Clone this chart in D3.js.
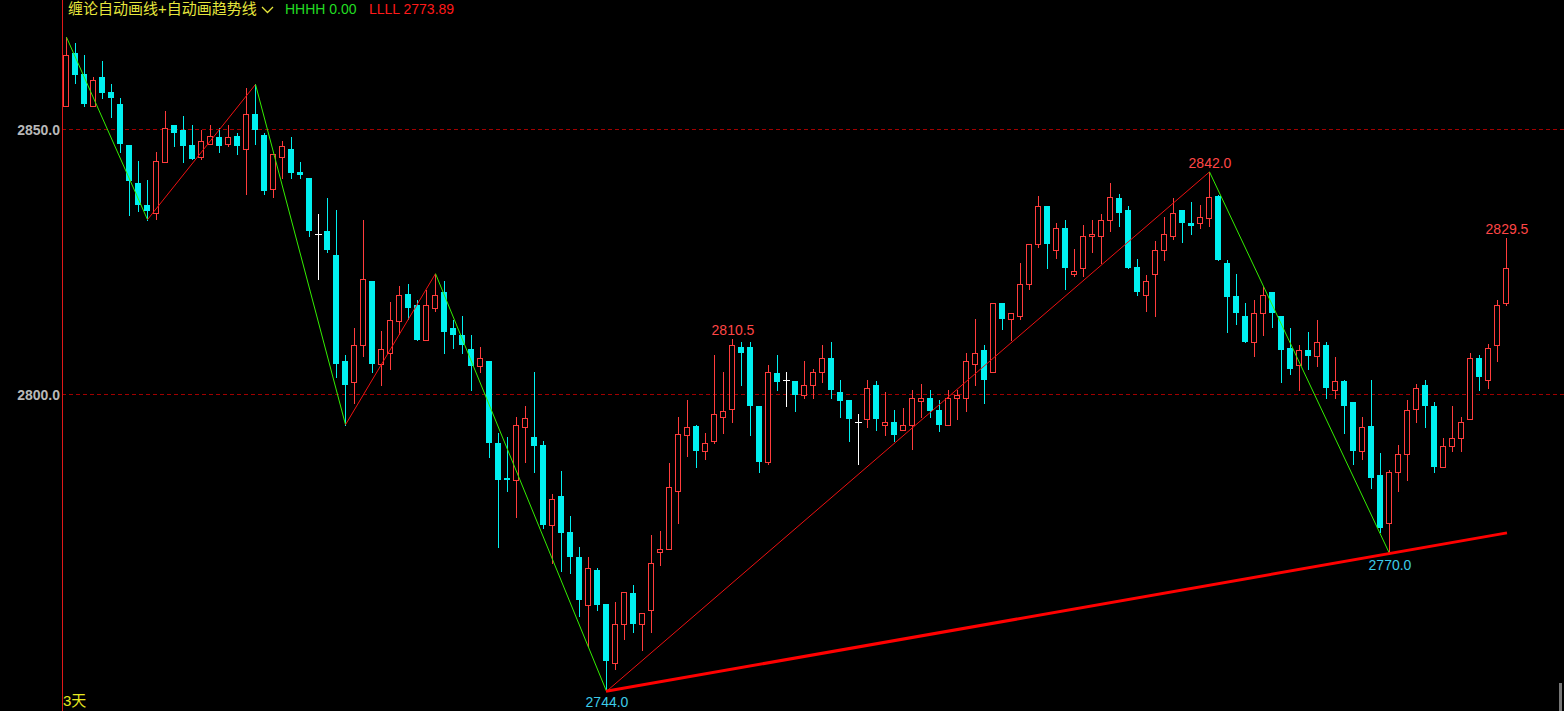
<!DOCTYPE html>
<html>
<head>
<meta charset="utf-8">
<script src="https://cdn.jsdelivr.net/npm/d3@7/dist/d3.min.js"></script>
<style>
  html, body { margin: 0; padding: 0; background: #000; overflow: hidden; }
  svg { display: block; }
</style>
</head>
<body>
<svg id="chart" width="1564" height="711"></svg>
<script>
// ---------- data ----------
const open = [2854.4,2864.5,2860.4,2854.4,2860.0,2857.0,2854.9,2847.0,2840.0,2835.8,
2834.2,2843.8,2850.9,2850.0,2847.0,2844.8,2847.2,2848.5,2847.2,2848.8,
2846.4,2853.0,2848.9,2838.8,2844.8,2846.4,2841.9,2840.9,2830.3,2830.9,
2826.4,2806.4,2802.3,2809.4,2821.5,2805.7,2807.9,2813.9,2818.9,2816.9,
2810.2,2816.3,2819.4,2812.5,2811.3,2808.5,2805.4,2806.4,2790.9,2784.3,
2783.8,2793.8,2791.9,2790.4,2775.3,2780.9,2774.0,2769.4,2760.3,2766.8,
2760.4,2749.4,2756.7,2762.5,2756.7,2759.3,2770.2,2770.8,2781.8,2792.4,
2794.0,2789.3,2791.2,2795.8,2797.3,2808.9,2808.9,2797.9,2787.2,2804.0,
2802.8,2802.5,2799.9,2801.8,2804.2,2806.9,2800.4,2798.9,2794.9,2795.3,
2801.8,2794.3,2794.9,2793.3,2794.3,2798.8,2799.4,2797.0,2794.3,2799.4,
2799.4,2805.8,2808.4,2804.3,2817.3,2814.2,2814.8,2820.8,2828.4,2835.5,
2827.2,2831.5,2822.7,2823.8,2829.9,2829.9,2833.0,2837.0,2834.9,2824.0,
2818.8,2822.7,2827.3,2829.9,2834.9,2832.4,2832.4,2833.3,2837.4,2824.9,
2818.5,2814.9,2809.9,2815.4,2819.4,2814.9,2808.8,2805.5,2808.4,2807.2,
2809.4,2800.8,2802.5,2798.5,2789.4,2794.0,2784.9,2775.8,2785.4,2788.8,
2797.3,2801.8,2797.9,2786.3,2790.2,2791.8,2795.4,2806.9,2802.8,2809.4,
2817.3];
const high = [2867.4,2866.4,2864.0,2860.0,2863.0,2858.5,2856.0,2847.0,2844.0,2840.4,
2845.8,2853.4,2850.9,2852.5,2850.9,2850.0,2850.9,2850.3,2850.9,2849.4,
2857.9,2858.5,2849.4,2845.4,2847.9,2848.5,2843.9,2840.9,2834.0,2837.0,
2834.9,2807.4,2812.5,2833.0,2821.5,2811.9,2817.4,2820.4,2820.9,2817.9,
2819.8,2822.8,2821.5,2814.0,2814.9,2811.3,2808.9,2806.4,2792.8,2791.9,
2795.8,2797.9,2804.3,2791.3,2781.3,2785.5,2777.0,2771.3,2769.4,2767.3,
2760.4,2760.9,2762.8,2764.0,2758.8,2773.4,2774.2,2787.0,2795.8,2798.9,
2794.3,2792.8,2807.4,2804.3,2810.5,2810.0,2810.0,2797.9,2805.5,2807.4,
2804.3,2802.5,2806.4,2804.9,2809.4,2810.0,2802.8,2798.9,2796.4,2802.8,
2802.5,2800.4,2797.0,2797.4,2800.9,2801.9,2800.9,2798.9,2800.9,2800.9,
2807.9,2814.3,2809.4,2817.3,2817.3,2815.4,2824.9,2828.4,2837.4,2835.5,
2832.4,2833.0,2827.4,2831.9,2833.0,2834.0,2840.0,2837.9,2835.5,2825.5,
2822.5,2828.9,2833.4,2837.0,2834.9,2836.4,2835.8,2842.0,2837.7,2825.4,
2822.8,2817.3,2817.9,2820.2,2819.4,2814.9,2812.5,2809.4,2811.8,2814.0,
2810.0,2807.0,2802.8,2798.5,2795.8,2802.8,2788.9,2785.8,2790.4,2798.9,
2801.9,2802.8,2798.5,2791.8,2797.9,2795.8,2807.9,2807.4,2809.5,2817.9,
2829.5];
const low = [2854.4,2858.7,2854.4,2854.4,2855.9,2852.3,2845.7,2833.8,2834.7,2833.0,
2833.2,2843.8,2846.8,2843.8,2844.4,2844.4,2847.2,2845.7,2846.8,2845.4,
2837.9,2847.3,2837.9,2837.2,2840.9,2840.9,2840.9,2829.9,2821.8,2826.8,
2803.3,2794.3,2798.4,2807.2,2804.2,2801.7,2804.8,2811.5,2814.3,2810.2,
2810.2,2815.7,2807.8,2808.7,2807.8,2800.8,2804.2,2788.3,2771.2,2781.7,
2776.8,2787.2,2785.3,2774.8,2768.2,2766.7,2766.3,2758.2,2752.6,2759.3,
2744.0,2748.2,2753.8,2755.1,2751.8,2755.2,2767.9,2770.8,2775.7,2788.4,
2786.3,2787.8,2790.8,2792.7,2794.8,2801.8,2792.3,2785.3,2786.9,2800.8,
2797.8,2796.8,2799.3,2799.3,2802.3,2799.3,2795.7,2791.2,2786.8,2793.8,
2793.3,2792.3,2791.2,2793.3,2789.7,2795.7,2795.7,2793.2,2794.3,2795.3,
2796.8,2801.8,2798.4,2804.3,2812.3,2810.2,2814.2,2819.9,2827.8,2823.8,
2825.7,2819.9,2822.3,2822.3,2826.8,2824.8,2830.8,2831.7,2823.8,2818.7,
2815.7,2814.8,2825.4,2829.4,2828.8,2830.3,2831.5,2831.8,2825.3,2811.7,
2813.3,2809.9,2807.3,2811.2,2812.7,2802.3,2803.8,2800.8,2804.8,2805.3,
2799.3,2799.3,2792.7,2786.8,2787.8,2782.3,2774.0,2770.0,2781.8,2783.9,
2794.8,2793.8,2785.3,2786.3,2789.3,2789.3,2795.4,2800.8,2801.2,2806.3,
2816.9];
const close = [2864.0,2860.2,2854.8,2859.4,2856.8,2855.9,2847.2,2840.2,2835.7,2834.7,
2844.0,2850.3,2849.3,2846.8,2844.4,2847.9,2848.8,2846.8,2848.5,2846.8,
2853.0,2849.9,2838.4,2845.4,2846.9,2841.8,2841.4,2830.8,2830.3,2827.2,
2805.7,2801.7,2809.4,2821.8,2805.7,2808.5,2814.0,2818.8,2816.3,2810.2,
2816.9,2818.8,2811.7,2811.2,2809.3,2805.3,2806.9,2790.8,2783.8,2783.8,
2794.3,2795.5,2790.2,2775.3,2780.3,2773.8,2769.3,2761.2,2767.3,2760.2,
2749.7,2756.7,2762.8,2756.7,2758.8,2768.3,2770.9,2782.5,2792.5,2793.9,
2789.3,2790.9,2796.4,2796.9,2809.4,2807.8,2797.8,2787.2,2804.3,2802.3,
2802.8,2799.9,2801.8,2804.3,2806.9,2800.9,2798.7,2795.3,2794.9,2801.3,
2795.3,2794.8,2792.3,2794.3,2799.4,2799.4,2796.8,2794.2,2799.4,2799.9,
2806.4,2807.9,2802.7,2817.3,2814.2,2815.4,2820.9,2828.4,2835.5,2828.4,
2831.5,2823.8,2823.3,2829.9,2830.3,2833.0,2837.3,2834.2,2823.8,2819.3,
2821.5,2827.3,2830.3,2834.3,2832.4,2831.8,2833.4,2837.3,2825.3,2818.4,
2815.3,2809.9,2815.4,2818.8,2815.3,2808.4,2804.8,2808.4,2807.2,2809.9,
2801.2,2802.5,2797.8,2789.3,2793.9,2784.2,2774.8,2785.3,2788.8,2797.0,
2801.3,2797.8,2786.3,2790.3,2791.8,2794.8,2806.9,2803.3,2808.8,2816.9,
2823.9];

const categories = d3.range(open.length);           // bar index
const yTicks = [2850.0, 2800.0];                     // horizontal dashed levels

// zigzag (automatic 缠论 strokes)
const zigIdx = [0, 9, 21, 31, 41, 60, 127, 147];
const zigVal = [2867.4, 2833.0, 2858.5, 2794.3, 2822.8, 2744.0, 2842.0, 2770.0];

// trend line (through two lows, extended to last bar)
const trendIdx = [60, 160];
const trendVal = [2744.0, 2773.89];

// price labels on extremes
const markIdx  = [74, 127, 160, 60, 147];
const markVal  = [2810.5, 2842.0, 2829.5, 2744.0, 2770.0];
const markType = ["high", "high", "high", "low", "low"];

const titleMain = "缠论自动画线+自动画趋势线";
const titleH = "HHHH 0.00";
const titleL = "LLLL 2773.89";
const periodLabel = "3天";

// ---------- drawing ----------
const W = 1564, H = 711;
const svg = d3.select("#chart");
const latin = "'Liberation Sans', Arial, sans-serif";
const mixed = "'Liberation Sans', 'Noto Sans CJK SC', sans-serif";

const x = d3.scaleLinear().domain([0, 160]).range([66, 1506]);
const y = d3.scaleLinear().domain([2800, 2850]).range([394.5, 129.5]);

const C_UP = "#ff3c3c", C_DN = "#00f0f0", C_DOJI = "#ffffff";

// grid levels
svg.append("g").selectAll("line").data(yTicks).join("line")
  .attr("x1", 62).attr("x2", W)
  .attr("y1", d => Math.floor(y(d)) + 0.5).attr("y2", d => Math.floor(y(d)) + 0.5)
  .attr("stroke", "#a00000").attr("stroke-width", 1).attr("stroke-dasharray", "4,3");

// y labels
svg.append("g").selectAll("text").data(yTicks).join("text")
  .attr("x", 60).attr("y", d => y(d) + 5)
  .attr("text-anchor", "end")
  .attr("font-family", latin).attr("font-weight", "bold").attr("font-size", 14)
  .attr("fill", "#b8b8b8")
  .text(d => d.toFixed(1));

// left axis line
svg.append("line").attr("x1", 62.5).attr("x2", 62.5).attr("y1", 0).attr("y2", H)
  .attr("stroke", "#e01818").attr("stroke-width", 1);

// candles
const g = svg.append("g").attr("shape-rendering", "crispEdges");
const bars = categories.map(i => ({i, o: open[i], h: high[i], l: low[i], c: close[i]}));
const colorOf = d => d.c > d.o ? C_UP : (d.c < d.o ? C_DN : C_DOJI);

g.selectAll("line.wick").data(bars).join("line").attr("class", "wick")
  .attr("x1", d => Math.round(x(d.i)) + 0.5).attr("x2", d => Math.round(x(d.i)) + 0.5)
  .attr("y1", d => Math.round(y(d.h))).attr("y2", d => Math.round(y(d.l)) + 1)
  .attr("stroke", colorOf).attr("stroke-width", 1);

// down (filled)
g.selectAll("rect.dn").data(bars.filter(d => d.c < d.o)).join("rect").attr("class", "dn")
  .attr("x", d => Math.round(x(d.i)) - 3).attr("width", 6)
  .attr("y", d => Math.round(y(d.o)))
  .attr("height", d => Math.max(2, Math.round(y(d.c)) - Math.round(y(d.o))))
  .attr("fill", C_DN);

// up (hollow)
g.selectAll("rect.up").data(bars.filter(d => d.c > d.o)).join("rect").attr("class", "up")
  .attr("x", d => Math.round(x(d.i)) - 2.5).attr("width", 5)
  .attr("y", d => Math.round(y(d.c)) + 0.5)
  .attr("height", d => Math.max(2, Math.round(y(d.o)) - Math.round(y(d.c))))
  .attr("fill", "#000").attr("stroke", C_UP).attr("stroke-width", 1);

// doji
g.selectAll("line.doji").data(bars.filter(d => d.c === d.o)).join("line").attr("class", "doji")
  .attr("x1", d => Math.round(x(d.i)) - 3).attr("x2", d => Math.round(x(d.i)) + 4)
  .attr("y1", d => Math.round(y(d.o)) + 0.5).attr("y2", d => Math.round(y(d.o)) + 0.5)
  .attr("stroke", C_DOJI).attr("stroke-width", 1);

// zigzag
const zig = zigIdx.map((d, k) => ({i: d, v: zigVal[k]}));
const zg = svg.append("g");
for (let k = 0; k < zig.length - 1; k++) {
  const a = zig[k], b = zig[k + 1];
  zg.append("line")
    .attr("x1", x(a.i) + 0.5).attr("y1", y(a.v))
    .attr("x2", x(b.i) + 0.5).attr("y2", y(b.v))
    .attr("stroke", b.v > a.v ? "#ee1111" : "#33ee00")
    .attr("stroke-width", 1);
}

// trend line
svg.append("line")
  .attr("x1", x(trendIdx[0])).attr("y1", y(trendVal[0]))
  .attr("x2", x(trendIdx[1]) + 1).attr("y2", y(trendVal[1]))
  .attr("stroke", "#ff0000").attr("stroke-width", 3);

// extreme labels
const marks = markIdx.map((d, k) => ({i: d, v: markVal[k], t: markType[k]}));
svg.append("g").selectAll("text").data(marks).join("text")
  .attr("x", d => x(d.i) + 1)
  .attr("y", d => d.t === "high" ? y(d.v) - 4 : y(d.v) + 16)
  .attr("text-anchor", "middle")
  .attr("font-family", latin).attr("font-size", 14)
  .attr("fill", d => d.t === "high" ? "#ff4646" : "#3ccbe8")
  .text(d => d.v.toFixed(1));

// title
svg.append("text").attr("x", 68).attr("y", 14)
  .attr("font-family", mixed).attr("font-size", 15).attr("fill", "#e6e63c")
  .text(titleMain);
svg.append("path").attr("d", "M262,7 L267.5,12.5 L273,7")
  .attr("fill", "none").attr("stroke", "#e6e63c").attr("stroke-width", 1.3);
svg.append("text").attr("x", 285).attr("y", 14)
  .attr("font-family", latin).attr("font-size", 14).attr("fill", "#22dd22")
  .text(titleH);
svg.append("text").attr("x", 369).attr("y", 14)
  .attr("font-family", latin).attr("font-size", 14).attr("fill", "#ff1a1a")
  .text(titleL);

// period label
svg.append("text").attr("x", 63).attr("y", 706)
  .attr("font-family", mixed).attr("font-size", 15).attr("fill", "#e8e820")
  .text(periodLabel);

// right-bottom scroll marker
svg.append("rect").attr("x", 1559).attr("y", 683).attr("width", 3).attr("height", 28)
  .attr("fill", "#777");
</script>
</body>
</html>
